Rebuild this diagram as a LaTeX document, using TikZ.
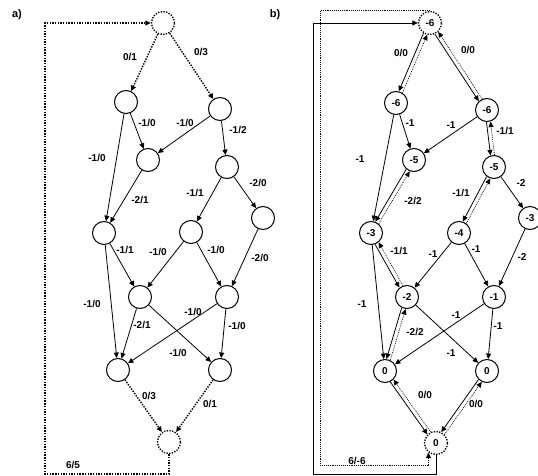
\documentclass[tikz,border=0pt]{standalone}
\usepackage{fontspec}
\setmainfont{Liberation Sans}
\usetikzlibrary{arrows.meta,calc}
\newcommand\offedge[3]{\draw[#3,shorten <=11.9pt,shorten >=11.9pt] ($(#1)!2pt!-90:(#2)$) -- ($(#2)!2pt!90:(#1)$);}
\newcommand\pairedge[2]{\offedge{#1}{#2}{edge}\offedge{#2}{#1}{bdot}}
\begin{document}
\begin{tikzpicture}[x=1pt,y=-1pt,
  font=\fontsize{10}{12}\selectfont\bfseries,
  nd/.style={circle,draw,line width=1pt,minimum size=23pt,inner sep=0pt},
  dnd/.style={nd,line width=1.4pt,dash pattern=on 1.3pt off 1.4pt},
  ar/.style={-{Triangle[length=5.5pt,width=5pt]}},
  edge/.style={ar,line width=0.8pt},
  dedge/.style={ar,line width=1.4pt,dash pattern=on 1.4pt off 1.3pt},
  bdot/.style={ar,line width=0.65pt,dash pattern=on 0.9pt off 1pt},
  lbl/.style={inner sep=0pt},
  plbl/.style={inner sep=0pt,font=\fontsize{11}{13}\selectfont\bfseries},
]
\useasboundingbox (0,0) rectangle (538,476);

% ---------- panel a ----------
\node[plbl] (pla) at (17,15) {a)};
\node[dnd] (atop) at (163,23) {};
\node[nd] (a1) at (126,102) {};
\node[nd] (a2) at (220,109) {};
\node[nd] (b1) at (148,160) {};
\node[nd] (b2) at (227,167) {};
\node[nd] (c1) at (104,233) {};
\node[nd] (c2) at (191,232) {};
\node[nd] (c3) at (263,218) {};
\node[nd] (d1) at (140,297) {};
\node[nd] (d2) at (227,297) {};
\node[nd] (e1) at (118,370) {};
\node[nd] (e2) at (220,370) {};
\node[dnd] (abot) at (169,442) {};

\draw[dedge] (atop) -- (a1);
\draw[dedge] (atop) -- (a2);
\draw[edge] (a1) -- (b1);
\draw[edge] (a2) -- (b1);
\draw[edge] (a2) -- (b2);
\draw[edge] (a1) -- (c1);
\draw[edge] (b1) -- (c1);
\draw[edge] (b2) -- (c2);
\draw[edge] (b2) -- (c3);
\draw[edge] (c1) -- (d1);
\draw[edge] (c2) -- (d1);
\draw[edge] (c2) -- (d2);
\draw[edge] (c3) -- (d2);
\draw[edge] (c1) -- (e1);
\draw[edge] (d1) -- (e1);
\draw[edge] (d2) -- (e1);
\draw[edge] (d1) -- (e2);
\draw[edge] (d2) -- (e2);
\draw[dedge] (e1) -- (abot);
\draw[dedge] (e2) -- (abot);
\coordinate (la) at (45,474);
\draw[dedge] (abot.south) |- (la) |- (atop.west);

\node[lbl] at (130,57) {0/1};
\node[lbl] at (201,52) {0/3};
\node[lbl] at (147,123) {-1/0};
\node[lbl] at (185,123) {-1/0};
\node[lbl] at (238,130) {-1/2};
\node[lbl] at (97,158) {-1/0};
\node[lbl] at (140,200) {-2/1};
\node[lbl] at (195,193) {-1/1};
\node[lbl] at (258,183) {-2/0};
\node[lbl] at (125,250) {-1/1};
\node[lbl] at (158,252) {-1/0};
\node[lbl] at (216,250) {-1/0};
\node[lbl] at (260,258) {-2/0};
\node[lbl] at (92,304) {-1/0};
\node[lbl] at (142,325) {-2/1};
\node[lbl] at (193,312) {-1/0};
\node[lbl] at (178,353) {-1/0};
\node[lbl] at (237,326) {-1/0};
\node[lbl] at (149,396) {0/3};
\node[lbl] at (210,404) {0/1};
\node[lbl] at (73,465) {6/5};

% ---------- panel b ----------
\node[plbl] (plb) at (275,15) {b)};
\node[dnd] (btop) at (430,23) {-6};
\node[nd] (pa1) at (396,103) {-6};
\node[nd] (pa2) at (487,110) {-6};
\node[nd] (pb1) at (414,160) {-5};
\node[nd] (pb2) at (494,167) {-5};
\node[nd] (pc1) at (371,233) {-3};
\node[nd] (pc2) at (459,233) {-4};
\node[nd] (pc3) at (530,218) {-3};
\node[nd] (pd1) at (407,297) {-2};
\node[nd] (pd2) at (494,297) {-1};
\node[nd] (pe1) at (385,371) {0};
\node[nd] (pe2) at (487,371) {0};
\node[dnd] (bbot) at (436,443) {0};

\pairedge{btop}{pa1}
\pairedge{btop}{pa2}
\draw[edge] (pa1) -- (pb1);
\draw[edge] (pa2) -- (pb1);
\pairedge{pa2}{pb2}
\draw[edge] (pa1) -- (pc1);
\pairedge{pb1}{pc1}
\pairedge{pb2}{pc2}
\draw[edge] (pb2) -- (pc3);
\pairedge{pc1}{pd1}
\draw[edge] (pc2) -- (pd1);
\draw[edge] (pc2) -- (pd2);
\draw[edge] (pc3) -- (pd2);
\draw[edge] (pc1) -- (pe1);
\pairedge{pd1}{pe1}
\draw[edge] (pd2) -- (pe1);
\draw[edge] (pd1) -- (pe2);
\draw[edge] (pd2) -- (pe2);
\pairedge{pe1}{bbot}
\pairedge{pe2}{bbot}

\coordinate (lb) at (313,474.5);
\coordinate (lc) at (320,465);
\draw[edge] (bbot.south) |- (lb) |- (btop.west);
\draw[bdot] (btop.north) -| (lc) -| (bbot.-128);

\node[lbl] at (401,53) {0/0};
\node[lbl] at (468,50) {0/0};
\node[lbl] at (410,123) {-1};
\node[lbl] at (451,125) {-1};
\node[lbl] at (505,131) {-1/1};
\node[lbl] at (360,159) {-1};
\node[lbl] at (413,201) {-2/2};
\node[lbl] at (461,193) {-1/1};
\node[lbl] at (521,183) {-2};
\node[lbl] at (399,251) {-1/1};
\node[lbl] at (433,254) {-1};
\node[lbl] at (476,249) {-1};
\node[lbl] at (522,257) {-2};
\node[lbl] at (362,304) {-1};
\node[lbl] at (415,332) {-2/2};
\node[lbl] at (456,315) {-1};
\node[lbl] at (451,353) {-1};
\node[lbl] at (498,326) {-1};
\node[lbl] at (425,395) {0/0};
\node[lbl] at (476,404) {0/0};
\node[lbl] at (357,461) {6/-6};
\end{tikzpicture}
\end{document}
